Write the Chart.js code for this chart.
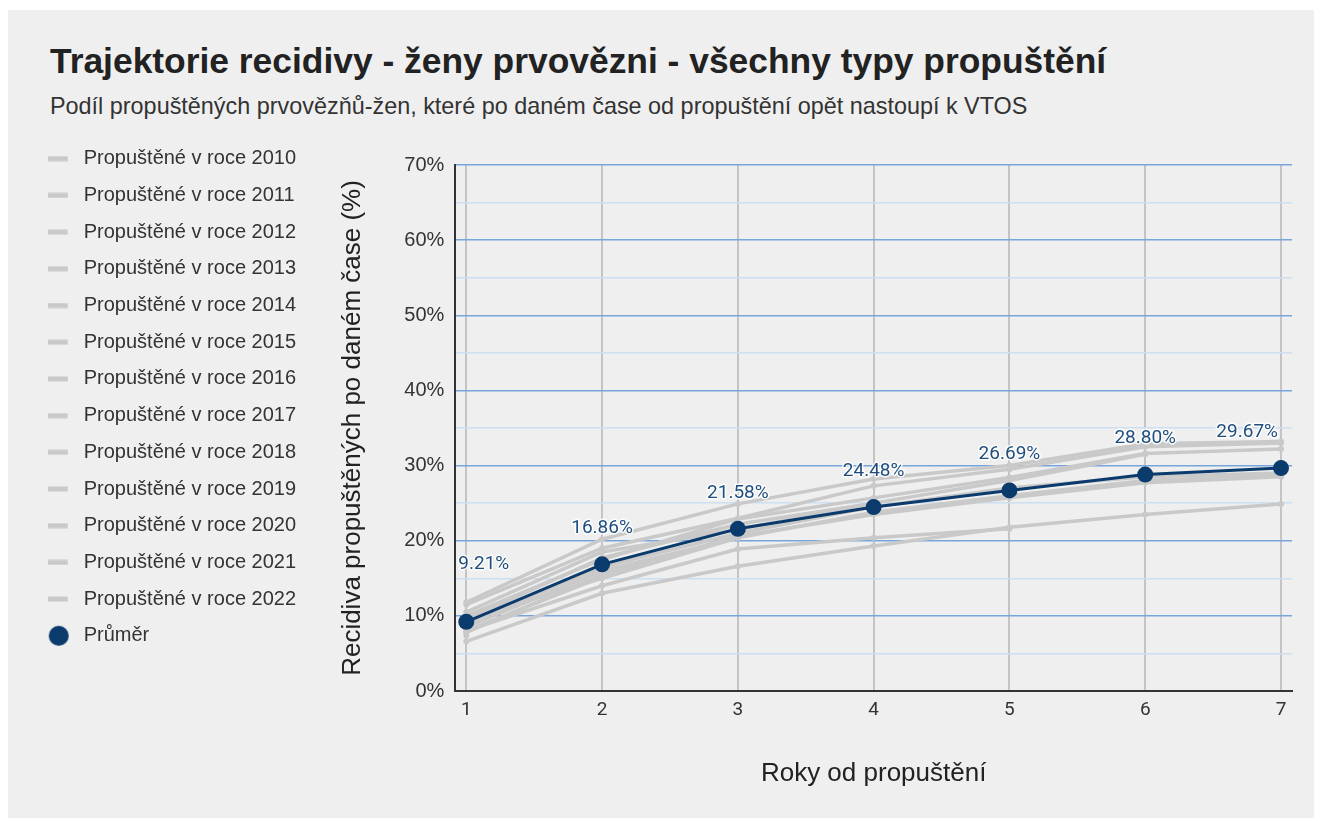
<!DOCTYPE html>
<html lang="cs">
<head>
<meta charset="utf-8">
<title>Trajektorie recidivy</title>
<script src="https://cdn.jsdelivr.net/npm/chart.js@4/dist/chart.umd.min.js"></script>
<style>
    html, body { margin: 0; padding: 0; background: #ffffff; }
    body { width: 1322px; height: 821px; position: relative; overflow: hidden; }
    #panel { position: absolute; left: 8px; top: 10px; width: 1306px; height: 808px; background: #efefef; }
    #nadpis { position: absolute; left: 42px; top: 34px; margin: 0; font: bold 35.4px/1 "Liberation Sans", Arial, sans-serif; color: #222; white-space: nowrap; }
    #podnadpis { position: absolute; left: 42px; top: 85px; margin: 0; font: 23.4px/1 "Liberation Sans", Arial, sans-serif; color: #333; white-space: nowrap; }
    #obal { position: absolute; left: 0; top: 122px; width: 1306px; height: 686px; }
</style>
</head>
<body>
<div id="panel">
    <h1 id="nadpis">Trajektorie recidivy - ženy prvovězni - všechny typy propuštění</h1>
    <p id="podnadpis">Podíl propuštěných prvovězňů-žen, které po daném čase od propuštění opět nastoupí k VTOS</p>
    <div id="obal"><canvas id="graf"></canvas></div>
</div>
<script>
// Roky od propuštění
const roky = [1, 2, 3, 4, 5, 6, 7];

// Podíl recidivy (%) podle roku propuštění
const propusteni2010 = [11.8, 20.2, 24.9, 28.2, 30.0, 32.9, 33.2];
const propusteni2011 = [11.5, 19.0, 23.0, 27.3, 29.5, 32.5, 33.0];
const propusteni2012 = [10.0, 17.5, 22.9, 25.7, 28.4, 31.6, 32.2];
const propusteni2013 = [9.0, 16.5, 21.0, 24.5, 27.0, 28.5, 29.0];
const propusteni2014 = [8.5, 16.0, 20.4, 23.8, 26.0, 28.0, 28.7];
const propusteni2015 = [7.8, 15.5, 20.6, 23.5, 25.7, 27.7, 28.5];
const propusteni2016 = [6.6, 13.0, 16.6, 19.3, 21.8, 23.5, 24.9];
const propusteni2017 = [9.5, 17.7, 22.2, 25.0, 28.0, 31.5];
const propusteni2018 = [8.0, 14.0, 18.9, 20.4, 21.6];
const propusteni2019 = [10.5, 18.5, 21.5, 25.0];
const propusteni2020 = [9.5, 15.0, 20.4];
const propusteni2021 = [8.0, 15.2];
const propusteni2022 = [7.4];

// Průměr přes všechny ročníky
const prumer = [9.21, 16.86, 21.58, 24.48, 26.69, 28.80, 29.67];

// Osa y
const osaYMax = 70;
const osaYKrok = 5;

const rocniky = [
    ['Propuštěné v roce 2010', propusteni2010],
    ['Propuštěné v roce 2011', propusteni2011],
    ['Propuštěné v roce 2012', propusteni2012],
    ['Propuštěné v roce 2013', propusteni2013],
    ['Propuštěné v roce 2014', propusteni2014],
    ['Propuštěné v roce 2015', propusteni2015],
    ['Propuštěné v roce 2016', propusteni2016],
    ['Propuštěné v roce 2017', propusteni2017],
    ['Propuštěné v roce 2018', propusteni2018],
    ['Propuštěné v roce 2019', propusteni2019],
    ['Propuštěné v roce 2020', propusteni2020],
    ['Propuštěné v roce 2021', propusteni2021],
    ['Propuštěné v roce 2022', propusteni2022]
];

const sedaBarva = '#c9c9c9';
const modraBarva = '#0b3b6c';
const barvaPopisku = '#1f4e7e';

function naBody(hodnoty) {
    return hodnoty.map((v, i) => ({ x: roky[i], y: v }));
}

// Značky do legendy (šedá čárka a modrý bod)
function znackaCara() {
    const c = document.createElement('canvas');
    c.width = 26; c.height = 6;
    const g = c.getContext('2d');
    g.fillStyle = sedaBarva;
    g.fillRect(0, 0.5, 20, 5);
    return c;
}

function znackaBod() {
    const c = document.createElement('canvas');
    c.width = 26; c.height = 22;
    const g = c.getContext('2d');
    g.fillStyle = modraBarva;
    g.beginPath();
    g.arc(11, 11, 10, 0, Math.PI * 2);
    g.fill();
    return c;
}

const cara = znackaCara();
const bod = znackaBod();

const datasets = rocniky.map(([nazev, hodnoty]) => ({
    label: nazev,
    data: naBody(hodnoty),
    borderColor: sedaBarva,
    backgroundColor: sedaBarva,
    borderWidth: 3.5,
    pointRadius: 3,
    pointBorderWidth: 0,
    tension: 0,
    order: 1
}));

datasets.push({
    label: 'Průměr',
    data: naBody(prumer),
    borderColor: modraBarva,
    backgroundColor: modraBarva,
    borderWidth: 3,
    pointRadius: 8,
    pointBorderWidth: 0,
    tension: 0,
    order: 0
});
const indexPrumeru = datasets.length - 1;

// Popisky hodnot nad body průměru
const popiskyPlugin = {
    id: 'popisky',
    afterDatasetsDraw(chart) {
        const ctx = chart.ctx;
        const area = chart.chartArea;
        const meta = chart.getDatasetMeta(indexPrumeru);
        ctx.save();
        ctx.font = '19px Roboto';
        ctx.textAlign = 'center';
        ctx.textBaseline = 'middle';
        ctx.lineJoin = 'round';
        meta.data.forEach((pt, i) => {
            const text = prumer[i].toFixed(2) + '%';
            const w = ctx.measureText(text).width;
            let x = pt.x;
            x = Math.max(x, area.left + 3 + w / 2);
            x = Math.min(x, area.right - 14 - w / 2);
            const y = pt.y - (i === 0 ? 58 : 36);
            ctx.strokeStyle = 'rgba(255,255,255,0.85)';
            ctx.lineWidth = 3;
            ctx.strokeText(text, x, y);
            ctx.fillStyle = barvaPopisku;
            ctx.fillText(text, x, y);
        });
        ctx.restore();
    }
};

const ctx = document.getElementById('graf').getContext('2d');

new Chart(ctx, {
    type: 'line',
    data: { datasets: datasets },
    options: {
        responsive: true,
        maintainAspectRatio: false,
        animation: false,
        events: [],
        layout: { padding: { left: 23, right: 22, top: 0, bottom: 0 } },
        plugins: {
            // prázdný titulek jen odsadí plochu grafu shora (ne přes legendu)
            title: {
                display: true,
                text: '',
                fullSize: false,
                font: { size: 10, lineHeight: 1 },
                padding: { top: 23, bottom: 0 }
            },
            tooltip: { enabled: false },
            legend: {
                position: 'left',
                align: 'start',
                labels: {
                    usePointStyle: true,
                    pointStyleWidth: 26,
                    padding: 16.7,
                    color: '#333',
                    font: { family: '"Liberation Sans", Arial, sans-serif', size: 20 },
                    sort: (a, b) => a.datasetIndex - b.datasetIndex,
                    generateLabels(chart) {
                        const polozky = Chart.defaults.plugins.legend.labels.generateLabels(chart);
                        polozky.forEach(p => {
                            p.pointStyle = p.datasetIndex === indexPrumeru ? bod : cara;
                        });
                        return polozky;
                    }
                }
            }
        },
        scales: {
            x: {
                type: 'linear',
                min: 0.919,
                max: 7.081,
                afterBuildTicks: scale => { scale.ticks = roky.map(v => ({ value: v })); },
                grid: { color: '#c4c4c4', lineWidth: 2, drawTicks: false },
                border: { color: '#333', width: 2 },
                ticks: {
                    padding: 8,
                    color: '#333',
                    font: { family: 'Roboto', size: 19 },
                    callback: v => String(v)
                },
                title: {
                    display: true,
                    text: 'Roky od propuštění',
                    color: '#222',
                    font: { family: '"Liberation Sans", Arial, sans-serif', size: 26 },
                    padding: { top: 28, bottom: 29 }
                }
            },
            y: {
                min: 0,
                max: osaYMax,
                grid: {
                    drawTicks: false,
                    lineWidth: 1.5,
                    color: c => (c.tick && c.tick.value % 10 === 0) ? '#76a5dc' : '#cde0f2'
                },
                border: { color: '#333', width: 2 },
                ticks: {
                    stepSize: osaYKrok,
                    padding: 11,
                    color: '#333',
                    font: { family: '"Liberation Sans", Arial, sans-serif', size: 20 },
                    callback: v => (v % 10 === 0 ? v + '%' : '')
                },
                title: {
                    display: true,
                    text: 'Recidiva propuštěných po daném čase (%)',
                    color: '#222',
                    font: { family: '"Liberation Sans", Arial, sans-serif', size: 26 },
                    padding: { top: 31, bottom: 25 }
                }
            }
        }
    },
    plugins: [popiskyPlugin]
});
</script>
</body>
</html>
